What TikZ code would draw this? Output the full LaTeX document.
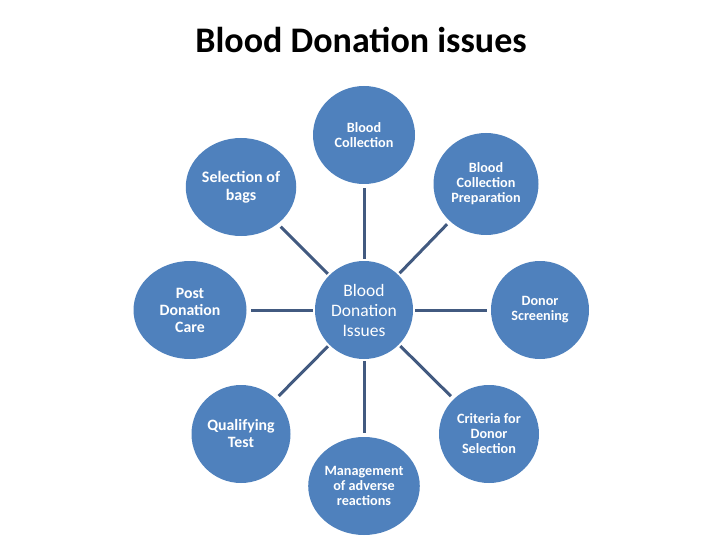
\documentclass[tikz,border=0pt]{standalone}
\usepackage{fontspec}
\setmainfont{Carlito}
\usetikzlibrary{shapes.geometric}
\definecolor{issueblue}{RGB}{79,129,189}
\definecolor{linkblue}{RGB}{66,90,128}

\begin{document}
\begin{tikzpicture}[x=1pt, y=-1pt, issue/.style = {shape=ellipse, fill=issueblue,
	text=white, align=center, inner sep=0pt, minimum height=98pt,
	font=\bfseries\fontsize{14.2}{15}\selectfont},
	link/.style = {draw=linkblue, line width=3pt, shorten <=2pt, shorten >=4pt}]

	\useasboundingbox (0,0) rectangle (720,540);
	\node (title) at (361,40) {\fontsize{36}{40}\selectfont\bfseries Blood Donation issues};

	\node[issue, minimum width=98pt, font=\fontsize{17.5}{20}\selectfont] (centre) at (364,310) {Blood\\Donation\\Issues};
	\node[issue, minimum width=102pt] (collection) at (364,135) {Blood\\Collection};
	\node[issue, minimum width=105pt, minimum height=102pt] (preparation) at (486,184) {Blood\\Collection\\Preparation};
	\node[issue, minimum width=98pt] (screening) at (540,310) {Donor\\Screening};
	\node[issue, minimum width=100pt] (criteria) at (489,434) {Criteria for\\Donor\\Selection};
	\node[issue, minimum width=108pt] (adverse) at (364,486) {Management\\of adverse\\reactions};
	\node[issue, minimum width=99pt, font=\bfseries\fontsize{15.8}{17}\selectfont] (qualifying) at (241,434) {Qualifying\\Test};
	\node[issue, minimum width=113pt, font=\bfseries\fontsize{15.8}{17}\selectfont] (postcare) at (190,310) {Post\\Donation\\Care};
	\node[issue, minimum width=108pt, font=\bfseries\fontsize{16}{18}\selectfont] (bags) at (241,187) {Selection of\\bags};

	\foreach \n in {collection, preparation, screening, criteria, adverse, qualifying, postcare, bags}
		\draw[link] (centre) -- (\n);
\end{tikzpicture}
\end{document}
